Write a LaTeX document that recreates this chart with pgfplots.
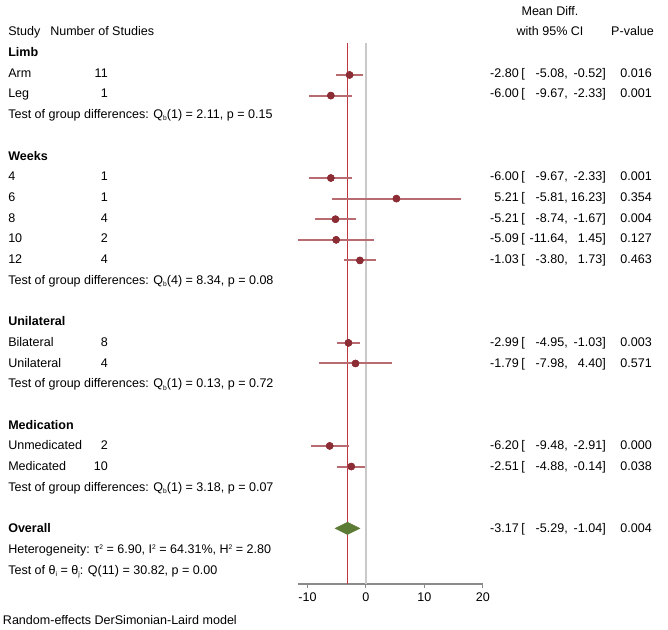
\documentclass[border=0pt]{standalone}
\usepackage{pgfplots}
\pgfplotsset{compat=1.18}
\usepackage{pgfplotstable}
\usepackage{fontspec}
\setmainfont{Liberation Sans}
\definecolor{dotred}{HTML}{8C2D35}
\definecolor{cired}{HTML}{B86B70}
\definecolor{refred}{HTML}{C0363F}
\definecolor{diamondgreen}{HTML}{5C7B35}
\definecolor{zerogray}{HTML}{C9C9C9}
\definecolor{axisgray}{HTML}{8A8A8A}
\newcommand{\sups}[1]{\raisebox{0.6ex}{\fontsize{5}{5}\selectfont #1}}
\newcommand{\subs}[1]{\raisebox{-0.35ex}{\fontsize{5}{5}\selectfont #1}}

% row: line index from the top, est/lo/hi: mean difference and 95% CI
\pgfplotstableread{
row est lo hi
2 -2.80 -5.08 -0.52
3 -6.00 -9.67 -2.33
7 -6.00 -9.67 -2.33
8 5.21 -5.81 16.23
9 -5.21 -8.74 -1.67
10 -5.09 -11.64 1.45
11 -1.03 -3.80 1.73
15 -2.99 -4.95 -1.03
16 -1.79 -7.98 4.40
20 -6.20 -9.48 -2.91
21 -2.51 -4.88 -0.14
}\studies

\begin{document}
\fontsize{9.4pt}{11pt}\selectfont
\begin{tikzpicture}
\begin{axis}[
    at={(223.4pt,-438pt)}, anchor=south west,
    scale only axis,
    width=138.8pt, height=405.75pt,
    xmin=-11.64, xmax=20,
    ymin=-26.70, ymax=-0.45,
    axis x line*=bottom,
    axis y line=none,
    x axis line style={draw=axisgray, line width=0.9pt, -},
    xtick={-10,0,10,20},
    xticklabels={-10,0,10,20},
    tick align=outside,
    major tick length=3pt,
    tick style={draw=axisgray, line width=0.8pt},
    x tick label style={font=\fontsize{9.4pt}{11pt}\selectfont, text=black},
    clip=false
]
\addplot[zerogray, line width=1.3pt] coordinates {(0,-0.45) (0,-26.70)};
\addplot[refred, line width=0.85pt] coordinates {(-3.17,-0.45) (-3.17,-26.70)};
\addplot[only marks, mark=*, mark size=2.6pt, mark options={draw=dotred, fill=dotred},
    error bars/.cd, x dir=both, x explicit, error mark=none,
    error bar style={cired, line width=1.5pt}]
    table[x=est, y expr=-\thisrow{row},
          x error plus expr=\thisrow{hi}-\thisrow{est},
          x error minus expr=\thisrow{est}-\thisrow{lo}] {\studies};
\addplot[only marks, mark=*, mark size=2.6pt, draw=dotred, fill=dotred]
    table[x=est, y expr=-\thisrow{row}] {\studies};
% overall estimate -3.17 [-5.29, -1.04]
\addplot[fill=diamondgreen, draw=diamondgreen, line width=0.3pt]
    coordinates {(-5.29,-24) (-3.17,-23.7) (-1.04,-24) (-3.17,-24.3)} -- cycle;
\end{axis}

\begin{scope}[x=0.75pt, y=-0.75pt, every node/.style={inner sep=0pt}]
\path (0,0) rectangle (668,629);
\newcommand{\lbl}[2]{\node[anchor=base west] at (8,{35.8+20.7*#1}) {#2};}
\newcommand{\cnt}[2]{\node[anchor=base east] at (108,{35.8+20.7*#1}) {#2};}
\newcommand{\res}[5]{%
  \node[anchor=base east] at (519,{35.8+20.7*#1}) {#2};
  \node[anchor=base west] at (521,{35.8+20.7*#1}) {[};
  \node[anchor=base east] at (568,{35.8+20.7*#1}) {#3,};
  \node[anchor=base east] at (606,{35.8+20.7*#1}) {#4]};
  \node[anchor=base east] at (652,{35.8+20.7*#1}) {#5};}

% header
\node[anchor=base west] at (8,35.8) {Study};
\node[anchor=base west] at (50,35.8) {Number of Studies};
\node[anchor=base] at (550,15.1) {Mean Diff.};
\node[anchor=base] at (550,35.8) {with 95\% CI};
\node[anchor=base east] at (654,35.8) {P-value};

\lbl{1}{\textbf{Limb}}
\lbl{2}{Arm}\cnt{2}{11}\res{2}{-2.80}{-5.08}{-0.52}{0.016}
\lbl{3}{Leg}\cnt{3}{1}\res{3}{-6.00}{-9.67}{-2.33}{0.001}
\lbl{4}{Test of group differences: Q\subs{b}(1) = 2.11, p = 0.15}

\lbl{6}{\textbf{Weeks}}
\lbl{7}{4}\cnt{7}{1}\res{7}{-6.00}{-9.67}{-2.33}{0.001}
\lbl{8}{6}\cnt{8}{1}\res{8}{5.21}{-5.81}{16.23}{0.354}
\lbl{9}{8}\cnt{9}{4}\res{9}{-5.21}{-8.74}{-1.67}{0.004}
\lbl{10}{10}\cnt{10}{2}\res{10}{-5.09}{-11.64}{1.45}{0.127}
\lbl{11}{12}\cnt{11}{4}\res{11}{-1.03}{-3.80}{1.73}{0.463}
\lbl{12}{Test of group differences: Q\subs{b}(4) = 8.34, p = 0.08}

\lbl{14}{\textbf{Unilateral}}
\lbl{15}{Bilateral}\cnt{15}{8}\res{15}{-2.99}{-4.95}{-1.03}{0.003}
\lbl{16}{Unilateral}\cnt{16}{4}\res{16}{-1.79}{-7.98}{4.40}{0.571}
\lbl{17}{Test of group differences: Q\subs{b}(1) = 0.13, p = 0.72}

\lbl{19}{\textbf{Medication}}
\lbl{20}{Unmedicated}\cnt{20}{2}\res{20}{-6.20}{-9.48}{-2.91}{0.000}
\lbl{21}{Medicated}\cnt{21}{10}\res{21}{-2.51}{-4.88}{-0.14}{0.038}
\lbl{22}{Test of group differences: Q\subs{b}(1) = 3.18, p = 0.07}

\lbl{24}{\textbf{Overall}}\res{24}{-3.17}{-5.29}{-1.04}{0.004}
\lbl{25}{Heterogeneity: τ\sups{2} = 6.90, I\sups{2} = 64.31\%, H\sups{2} = 2.80}
\lbl{26}{Test of θ\subs{i} = θ\subs{j}: Q(11) = 30.82, p = 0.00}

\node[anchor=base west] at (2.7,624.5) {Random-effects DerSimonian-Laird model};
\end{scope}
\end{tikzpicture}
\end{document}
